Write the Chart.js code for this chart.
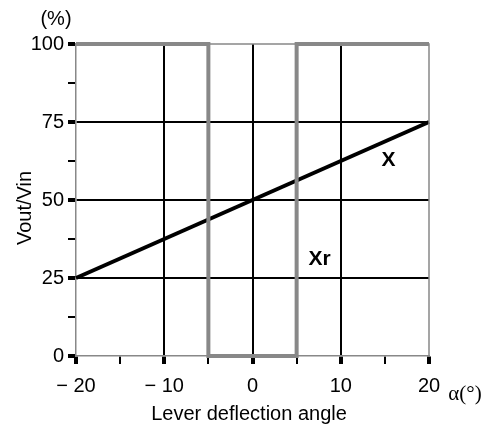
<!DOCTYPE html>
<html>
<head>
<meta charset="utf-8">
<script src="https://cdn.jsdelivr.net/npm/chart.js@4"></script>
<style>
  html, body { margin: 0; padding: 0; background: #fff; }
  #wrap { width: 486px; height: 425px; }
</style>
</head>
<body>
<div id="wrap"><canvas id="c" width="486" height="425"></canvas></div>
<script>
// data
const xLinePoints = [-20, 20];
const xLineValues = [25, 75];
const xrPoints = [-20, -5, -5, 5, 5, 20];
const xrValues = [100, 100, 0, 0, 100, 100];
const xTicks = [-20, -10, 0, 10, 20];
const yTicks = [0, 25, 50, 75, 100];
// curve labels: [text, x, y]
const curveLabels = [['X', 15.4, 62.8], ['Xr', 7.6, 31.1]];

const FONT = '"Liberation Sans", Arial, sans-serif';
const GREY = '#888888';

const isMajorX = v => Math.abs(v % 10) < 1e-6;
const isMajorY = v => Math.abs(v % 25) < 1e-6;

const extraText = {
  id: 'extraText',
  afterDraw(chart) {
    const ctx = chart.ctx;
    const area = chart.chartArea;
    const xs = chart.scales.x, ys = chart.scales.y;
    ctx.save();
    // top and right frame
    ctx.strokeStyle = GREY;
    ctx.lineWidth = 1.5;
    ctx.beginPath();
    ctx.moveTo(area.left, area.top);
    ctx.lineTo(area.right, area.top);
    ctx.lineTo(area.right, area.bottom);
    ctx.stroke();

    ctx.fillStyle = '#000';
    ctx.textAlign = 'center';
    ctx.textBaseline = 'middle';
    ctx.font = 'bold 21px ' + FONT;
    curveLabels.forEach(([t, x, y]) => {
      ctx.fillText(t, xs.getPixelForValue(x), ys.getPixelForValue(y));
    });

    ctx.font = '20px ' + FONT;
    ctx.fillText('(%)', 56, 19);
    ctx.textBaseline = 'alphabetic';
    ctx.fillText('Lever deflection angle', 249, 420);
    ctx.save();
    ctx.translate(31, 208);
    ctx.rotate(-Math.PI / 2);
    ctx.fillText('Vout/Vin', 0, 0);
    ctx.restore();
    ctx.textBaseline = 'middle';
    ctx.font = '21px "Liberation Serif", "DejaVu Serif", serif';
    ctx.fillText('\u03b1(\u00b0)', 465, 394);
    ctx.restore();
  }
};

new Chart(document.getElementById('c'), {
  type: 'scatter',
  data: {
    datasets: [
      {
        label: 'Xr',
        data: xrPoints.map((x, i) => ({ x: x, y: xrValues[i] })),
        showLine: true,
        borderColor: GREY,
        borderWidth: 4,
        pointRadius: 0,
        clip: false,
        borderJoinStyle: 'miter'
      },
      {
        label: 'X',
        data: xLinePoints.map((x, i) => ({ x: x, y: xLineValues[i] })),
        showLine: true,
        borderColor: '#000',
        borderWidth: 4,
        pointRadius: 0,
        clip: false
      }
    ]
  },
  options: {
    responsive: false,
    animation: false,
    events: [],
    layout: { padding: { top: 44, right: 57, left: 0, bottom: 0 } },
    plugins: { legend: { display: false }, tooltip: { enabled: false } },
    scales: {
      x: {
        type: 'linear',
        min: -20,
        max: 20,
        afterFit: s => { s.height = 69; },
        ticks: {
          stepSize: 5,
          color: '#000',
          padding: 10,
          maxRotation: 0,
          autoSkip: false,
          font: { family: FONT, size: 20 },
          callback: v => xTicks.includes(v) ? (v < 0 ? '\u2212 ' + Math.abs(v) : String(v)) : ''
        },
        grid: {
          color: c => (c.tick && isMajorX(c.tick.value) && Math.abs(c.tick.value) < 20) ? '#000' : 'rgba(0,0,0,0)',
          lineWidth: 2,
          tickColor: '#000',
          tickWidth: c => (c.tick && isMajorX(c.tick.value)) ? 4 : 2,
          tickLength: 8,
          drawTicks: true
        },
        border: { display: true, color: GREY, width: 1.5 }
      },
      y: {
        type: 'linear',
        min: 0,
        max: 100,
        afterFit: s => { s.width = 76; },
        ticks: {
          stepSize: 12.5,
          color: '#000',
          padding: 4,
          autoSkip: false,
          font: { family: FONT, size: 20 },
          callback: v => yTicks.includes(v) ? String(v) : ''
        },
        grid: {
          color: c => (c.tick && isMajorY(c.tick.value) && c.tick.value > 0 && c.tick.value < 100) ? '#000' : 'rgba(0,0,0,0)',
          lineWidth: 2,
          tickColor: '#000',
          tickWidth: c => (c.tick && isMajorY(c.tick.value)) ? 4 : 2,
          tickLength: 8,
          drawTicks: true
        },
        border: { display: true, color: GREY, width: 1.5 }
      }
    }
  },
  plugins: [extraText]
});
</script>
</body>
</html>
